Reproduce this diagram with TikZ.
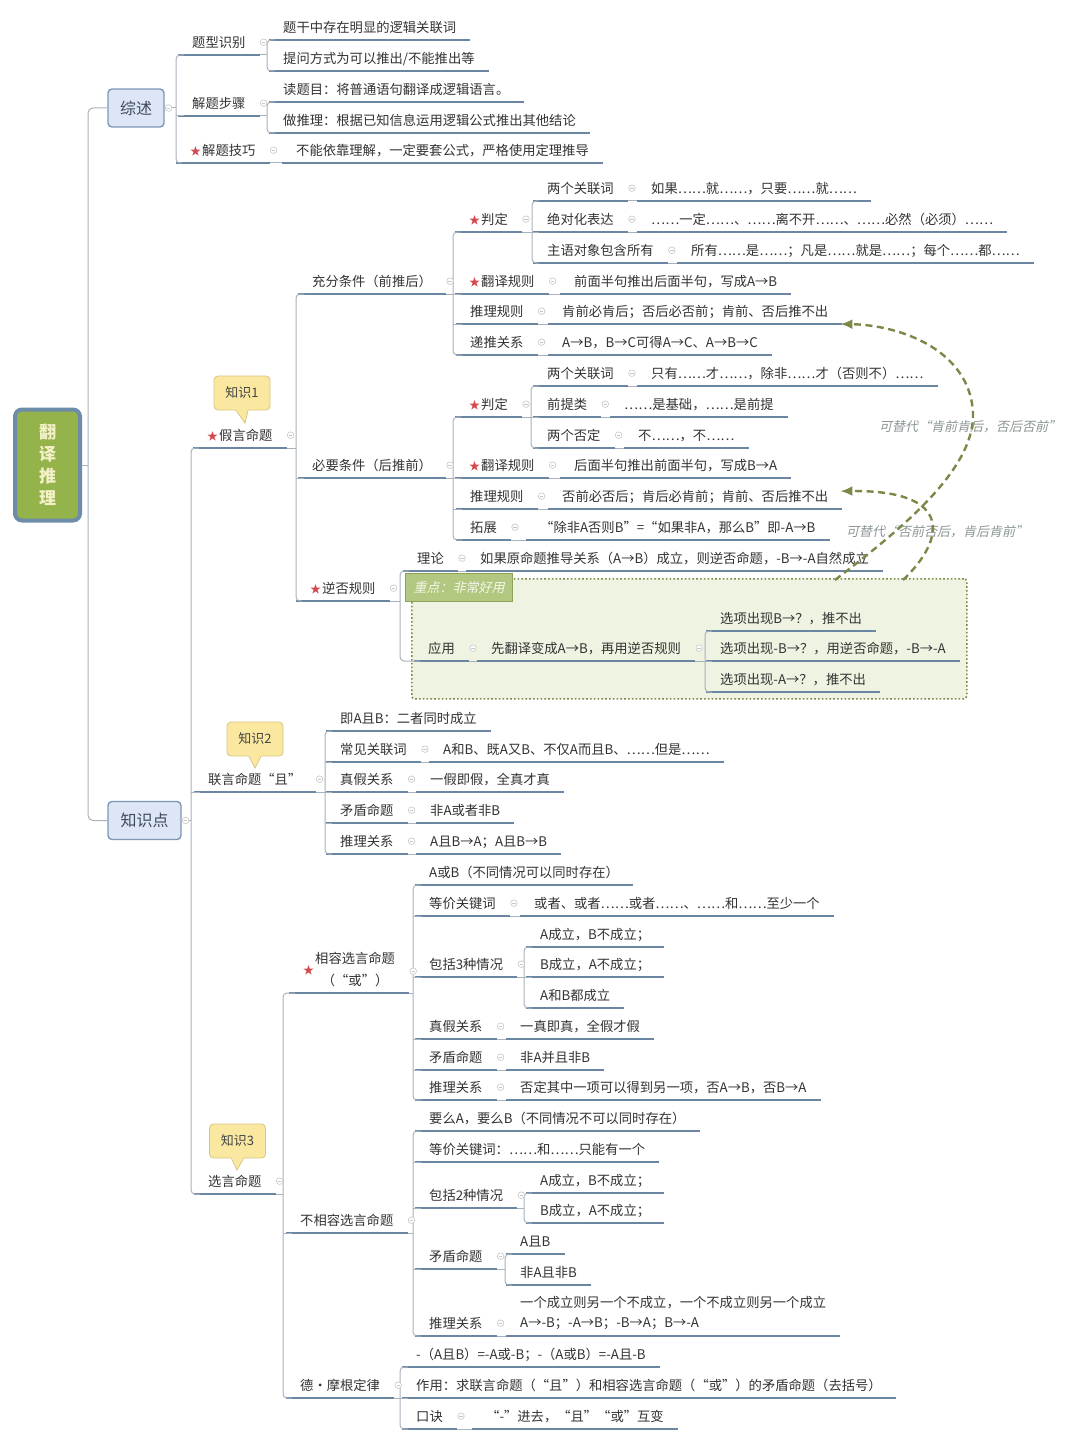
\documentclass[tikz,border=0pt]{standalone}
\usepackage{fontspec}
\setmainfont{Noto Sans CJK SC}
\newfontfamily\cjkit{Noto Sans CJK SC}[FakeSlant=0.22]
\usetikzlibrary{calc,arrows.meta}
\definecolor{txt}{HTML}{333333}
\definecolor{uline}{HTML}{6A86A3}
\definecolor{connc}{HTML}{A9B2BB}
\definecolor{starc}{HTML}{D2484B}
\definecolor{boxfill}{HTML}{DCE6F4}
\definecolor{boxdraw}{HTML}{7F97B6}
\definecolor{boxtxt}{HTML}{3F4A5A}
\definecolor{rootfill}{HTML}{94B34B}
\definecolor{rootdraw}{HTML}{6D8CA8}
\definecolor{roottext}{HTML}{F4F1C9}
\definecolor{callfill}{HTML}{FBE8A0}
\definecolor{calldraw}{HTML}{D8C57E}
\definecolor{calltxt}{HTML}{444444}
\definecolor{olive}{HTML}{7C8848}
\definecolor{notefill}{HTML}{EFF4E2}
\definecolor{labfill}{HTML}{B2C77F}
\definecolor{labdraw}{HTML}{8DA356}
\definecolor{labtxt}{HTML}{F4F7EA}
\definecolor{itgray}{HTML}{8C9696}
\newcommand\stx{{\color{starc}\fontsize{11}{11}\selectfont ★}\hspace{1pt}}
\newcommand\tpc[4]{\node[topic] (#1) at (#2,#3) {#4};}
\newcommand\myfork[4]{%
  \coordinate (VX) at (#2,0);
  \draw[cn] (#1.south east) -- (#1.south east -| VX);
  \draw[cn,rounded corners=4pt] ($(#3.south west)+(6,0)$) -- (#3.south west -| VX) -- (#4.south west -| VX) -- ($(#4.south west)+(6,0)$);}
\newcommand\mymid[1]{\draw[cn] (#1.south west -| VX) -- ($(#1.south west)+(6,0)$);}
\newcommand\mychain[2]{\draw[cn] (#1.south east) -- (#2.south west);}
\tikzset{
  topbase/.style={anchor=south west, inner xsep=14pt, inner ysep=6pt, text=txt,
    append after command={(\tikzlastnode.south west) edge[ul] (\tikzlastnode.south east)}},
  topic/.style={topbase, text height=11.7pt, text depth=1.6pt, font=\fontsize{13.3}{16}\selectfont},
  topictwo/.style={topbase, font=\fontsize{13.3}{20}\selectfont, align=left},
  ul/.style={draw=uline, line width=2.6pt},
  cn/.style={draw=connc, line width=1pt},
  clp/.style={draw=gray!45, line width=0.6pt},
  bigbox/.style={draw=boxdraw, line width=1.4pt, fill=boxfill, rounded corners=4pt, minimum height=38pt, font=\fontsize{16}{18}\selectfont, text=boxtxt},
  rootbox/.style={draw=rootdraw, line width=4pt, fill=rootfill, rounded corners=7pt, minimum width=65pt, minimum height=111pt, align=center, font=\bfseries\fontsize{17}{22}\selectfont, text=roottext, inner sep=0pt},
  callout/.style={draw=calldraw, line width=0.8pt, fill=callfill, rounded corners=4pt, minimum width=56pt, minimum height=34pt, font=\fontsize{13}{15}\selectfont, text=calltxt},
  notebox/.style={draw=olive, line width=1.6pt, dash pattern=on 1.6pt off 2.2pt, fill=notefill, rounded corners=3pt},
  notelab/.style={draw=labdraw, line width=1.4pt, fill=labfill, font=\cjkit\fontsize{13}{15}\selectfont, text=labtxt, inner sep=0pt},
  dasharrow/.style={draw=olive, line width=2.4pt, dash pattern=on 7pt off 4.5pt, -{Latex[length=12pt,width=10pt]}},
  itlab/.style={font=\cjkit\fontsize{13}{15}\selectfont, text=itgray, inner sep=1pt},
}
\begin{document}
\begin{tikzpicture}[x=1pt,y=-1pt]
\useasboundingbox (0,0) rectangle (1080,1442);
\fill[white] (0,0) rectangle (1080,1442);

% note box (background)
\node[notebox, anchor=north west, minimum width=555pt, minimum height=120pt] (note) at (411,578) {};
\node[notelab, anchor=north west, minimum width=107pt, minimum height=28pt] (notel) at (405,573) {重点：非常好用};

% root and main boxes
\node[rootbox] (root) at (47.5,465) {翻\\译\\推\\理};
\node[bigbox, minimum width=56pt] (zs) at (136,108) {综述};
\node[bigbox, minimum width=73pt] (zsd) at (144.5,820.5) {知识点};

% ---- 综述 ----
\tpc{a1}{178}{55}{题型识别}
\tpc{a1a}{269}{40}{题干中存在明显的逻辑关联词}
\tpc{a1b}{269}{71}{提问方式为可以推出/不能推出等}
\tpc{a2}{178}{116}{解题步骤}
\tpc{a2a}{269}{102}{读题目：将普通语句翻译成逻辑语言。}
\tpc{a2b}{269}{133}{做推理：根据已知信息运用逻辑公式推出其他结论}
\tpc{a3}{176}{163}{\stx 解题技巧}
\tpc{a3a}{282}{163}{不能依靠理解，一定要套公式，严格使用定理推导}

% ---- 假言命题 ----
\tpc{b1}{193}{448}{\stx 假言命题}
\tpc{b2}{194}{792}{联言命题“且”}
\tpc{b3}{194}{1194}{选言命题}

\tpc{c1}{298}{294}{充分条件（前推后）}
\tpc{c2}{298}{478}{必要条件（后推前）}
\tpc{c3}{296}{601}{\stx 逆否规则}

\tpc{d1}{455}{232}{\stx 判定}
\tpc{d2}{455}{294}{\stx 翻译规则}
\tpc{d3}{456}{324}{推理规则}
\tpc{d4}{456}{355}{递推关系}
\tpc{e1}{533}{201}{两个关联词}
\tpc{e2}{533}{232}{绝对化表达}
\tpc{e3}{533}{263}{主语对象包含所有}
\tpc{e1l}{637}{201}{如果……就……，只要……就……}
\tpc{e2l}{637}{232}{……一定……、……离不开……、……必然（必须）……}
\tpc{e3l}{677}{263}{所有……是……；凡是……就是……；每个……都……}
\tpc{d2l}{560}{294}{前面半句推出后面半句，写成A→B}
\tpc{d3l}{548}{324}{肯前必肯后；否后必否前；肯前、否后推不出}
\tpc{d4l}{548}{355}{A→B，B→C可得A→C、A→B→C}

\tpc{f1}{455}{417}{\stx 判定}
\tpc{f2}{455}{478}{\stx 翻译规则}
\tpc{f3}{456}{509}{推理规则}
\tpc{f4}{456}{540}{拓展}
\tpc{g1}{533}{386}{两个关联词}
\tpc{g2}{533}{417}{前提类}
\tpc{g3}{533}{448}{两个否定}
\tpc{g1l}{637}{386}{只有……才……，除非……才（否则不）……}
\tpc{g2l}{610}{417}{……是基础，……是前提}
\tpc{g3l}{624}{448}{不……，不……}
\tpc{f2l}{560}{478}{后面半句推出前面半句，写成B→A}
\tpc{f3l}{548}{509}{否前必否后；肯后必肯前；肯前、否后推不出}
\tpc{f4l}{526}{540}{“除非A否则B”=“如果非A，那么B”即-A→B}

\tpc{h1}{403}{571}{理论}
\tpc{h1l}{466}{571}{如果原命题推导关系（A→B）成立，则逆否命题，-B→-A自然成立}
\tpc{h2}{414}{661}{应用}
\tpc{h2l}{477}{661}{先翻译变成A→B，再用逆否规则}
\tpc{h2a}{706}{631}{选项出现B→？，推不出}
\tpc{h2b}{706}{661}{选项出现-B→？，用逆否命题，-B→-A}
\tpc{h2c}{706}{692}{选项出现-A→？，推不出}

% ---- 联言命题 ----
\tpc{i1}{326}{731}{即A且B：二者同时成立}
\tpc{i2}{326}{762}{常见关联词}
\tpc{i3}{326}{792}{真假关系}
\tpc{i4}{326}{823}{矛盾命题}
\tpc{i5}{326}{854}{推理关系}
\tpc{i2l}{429}{762}{A和B、既A又B、不仅A而且B、……但是……}
\tpc{i3l}{416}{792}{一假即假，全真才真}
\tpc{i4l}{416}{823}{非A或者非B}
\tpc{i5l}{416}{854}{A且B→A；A且B→B}

% ---- 选言命题 ----
\node[topbase, font=\fontsize{13.3}{16}\selectfont, inner ysep=3pt] (j1) at (289,993) {\raisebox{11pt}{\stx}\begin{tabular}[b]{@{}c@{}}相容选言命题\\[5pt]（“或”）\end{tabular}};
\tpc{j2}{286}{1233}{不相容选言命题}
\tpc{j3}{286}{1398}{德•摩根定律}

\tpc{k1}{415}{885}{A或B（不同情况可以同时存在）}
\tpc{k2}{415}{916}{等价关键词}
\tpc{k3}{415}{977}{包括3种情况}
\tpc{k4}{415}{1039}{真假关系}
\tpc{k5}{415}{1070}{矛盾命题}
\tpc{k6}{415}{1100}{推理关系}
\tpc{k2l}{520}{916}{或者、或者……或者……、……和……至少一个}
\tpc{k3a}{526}{947}{A成立，B不成立；}
\tpc{k3b}{526}{977}{B成立，A不成立；}
\tpc{k3c}{526}{1008}{A和B都成立}
\tpc{k4l}{506}{1039}{一真即真，全假才假}
\tpc{k5l}{506}{1070}{非A并且非B}
\tpc{k6l}{506}{1100}{否定其中一项可以得到另一项，否A→B，否B→A}

\tpc{m1}{415}{1131}{要么A，要么B（不同情况不可以同时存在）}
\tpc{m2}{415}{1162}{等价关键词：……和……只能有一个}
\tpc{m3}{415}{1208}{包括2种情况}
\tpc{m3a}{526}{1193}{A成立，B不成立；}
\tpc{m3b}{526}{1223}{B成立，A不成立；}
\tpc{m4}{415}{1269}{矛盾命题}
\tpc{m4a}{506}{1254}{A且B}
\tpc{m4b}{506}{1285}{非A且非B}
\tpc{m5}{415}{1336}{推理关系}
\node[topictwo] (m5l) at (506,1336) {一个成立则另一个不成立，一个不成立则另一个成立\\A→-B；-A→B；-B→A；B→-A};

\tpc{n1}{402}{1367}{-（A且B）=-A或-B；-（A或B）=-A且-B}
\tpc{n2}{402}{1398}{作用：求联言命题（“且”）和相容选言命题（“或”）的矛盾命题（去括号）}
\tpc{n3}{402}{1429}{口诀}
\tpc{n3l}{472}{1429}{“-”进去，“且”“或”互变}

% ---- connectors ----
\coordinate (VR) at (88,0);
\draw[cn] (root.east) -- (root.east -| VR);
\draw[cn,rounded corners=5pt] (zs.west) -- (zs.west -| VR) -- (zsd.west -| VR) -- (zsd.west);

\coordinate (VX) at (176,0);
\draw[cn] (zs.east) -- (zs.east -| VX);
\draw[cn,rounded corners=4pt] ($(a1.south west)+(6,0)$) -- (a1.south west -| VX) -- (a3.south west -| VX) -- ($(a3.south west)+(6,0)$);
\mymid{a2}
\myfork{a1}{267}{a1a}{a1b}
\myfork{a2}{267}{a2a}{a2b}
\mychain{a3}{a3a}

\coordinate (VX) at (191,0);
\draw[cn] (zsd.east) -- (zsd.east -| VX);
\draw[cn,rounded corners=4pt] ($(b1.south west)+(6,0)$) -- (b1.south west -| VX) -- (b3.south west -| VX) -- ($(b3.south west)+(6,0)$);
\mymid{b2}

\myfork{b1}{296}{c1}{c3} \mymid{c2}
\myfork{c1}{453}{d1}{d4} \mymid{d2} \mymid{d3}
\myfork{d1}{532}{e1}{e3} \mymid{e2}
\mychain{e1}{e1l} \mychain{e2}{e2l} \mychain{e3}{e3l}
\mychain{d2}{d2l} \mychain{d3}{d3l} \mychain{d4}{d4l}
\myfork{c2}{453}{f1}{f4} \mymid{f2} \mymid{f3}
\myfork{f1}{531}{g1}{g3} \mymid{g2}
\mychain{g1}{g1l} \mychain{g2}{g2l} \mychain{g3}{g3l}
\mychain{f2}{f2l} \mychain{f3}{f3l} \mychain{f4}{f4l}
\myfork{c3}{400}{h1}{h2}
\mychain{h1}{h1l} \mychain{h2}{h2l}
\myfork{h2l}{705}{h2a}{h2c} \mymid{h2b}

\myfork{b2}{325}{i1}{i5} \mymid{i2} \mymid{i3} \mymid{i4}
\mychain{i2}{i2l} \mychain{i3}{i3l} \mychain{i4}{i4l} \mychain{i5}{i5l}

\myfork{b3}{283}{j1}{j3} \mymid{j2}
\myfork{j1}{413}{k1}{k6} \mymid{k2} \mymid{k3} \mymid{k4} \mymid{k5}
\mychain{k2}{k2l}
\myfork{k3}{524}{k3a}{k3c} \mymid{k3b}
\mychain{k4}{k4l} \mychain{k5}{k5l} \mychain{k6}{k6l}
\myfork{j2}{413}{m1}{m5} \mymid{m2} \mymid{m3} \mymid{m4}
\myfork{m3}{524}{m3a}{m3b}
\myfork{m4}{505}{m4a}{m4b}
\mychain{m5}{m5l}
\myfork{j3}{400}{n1}{n3} \mymid{n2}
\mychain{n3}{n3l}

% collapse markers
\foreach \p in {zs,zsd,a1,a2,a3,b1,b2,b3,c1,c2,c3,d1,d2,d3,d4,e1,e2,e3,f1,f2,f3,f4,g1,g2,g3,h1,h2,h2l,i2,i3,i4,i5,j1,j2,j3,k2,k3,k4,k5,k6,m3,m4,m5,n3}{
  \draw[clp, fill=white] ($(\p.east)+(4,0)$) circle (3.3pt);
  \draw[clp] ($(\p.east)+(2.3,0)$) -- ($(\p.east)+(5.7,0)$);
}

% callouts
\node[callout] (kn1) at (242,393) {知识1};
\coordinate (kn1t) at (245,423);
\node[callout] (kn2) at (255,739) {知识2};
\coordinate (kn2t) at (255,768);
\node[callout] (kn3) at (237.5,1141) {知识3};
\coordinate (kn3t) at (237,1170);
\foreach \k in {kn1,kn2,kn3}{
  \fill[callfill] ($(\k.south)+(-6,-1.5)$) -- (\k t) -- ($(\k.south)+(6,-1.5)$) -- cycle;
  \draw[calldraw, line width=0.8pt] ($(\k.south)+(-6,0)$) -- (\k t) -- ($(\k.south)+(6,0)$);
}

% dashed arrows and labels
\node[itlab] (lab1) at (970,427) {可替代“肯前肯后，否后否前”};
\node[itlab] (lab2) at (937,532) {可替代“否前否后，肯后肯前”};
\coordinate (q1s) at (835,580);
\coordinate (q2s) at (903,580);
\draw[dasharrow] (q1s) .. controls (900,530) and (975,470) .. (973,413) .. controls (970,350) and (900,325) .. ($(d3l.south east)+(-2,0)$);
\draw[dasharrow] (q2s) .. controls (945,540) and (955,490) .. ($(f3l.east)+(-2,-5)$);
\end{tikzpicture}
\end{document}
